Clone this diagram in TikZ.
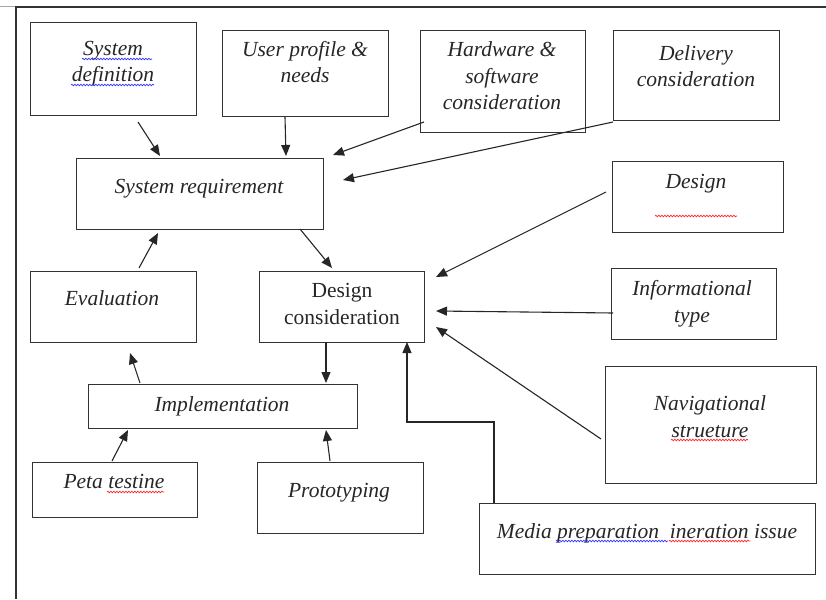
\documentclass[tikz,border=0pt]{standalone}
\usepackage{fontspec}
\setmainfont{Liberation Serif}
\usetikzlibrary{arrows.meta,decorations.pathmorphing}
\begin{document}
\begin{tikzpicture}[x=1pt,y=-1pt,
  box/.style={draw=black!80,line width=1.2pt,rectangle,inner sep=0pt,anchor=north west},
  lbl/.style={font=\fontsize{21.5}{26.5}\selectfont\itshape,align=center,anchor=base,inner sep=0pt,text=black!85},
  ulbl/.style={font=\fontsize{21.5}{26.5}\selectfont,align=center,anchor=base,inner sep=0pt,text=black!85},
  arr/.style={draw=black!85,line width=1.1pt,-{Triangle[length=11pt,width=9pt]}},
  sqred/.style={draw=red!85,line width=0.7pt,decorate,decoration={snake,amplitude=0.8pt,segment length=3pt}},
  sqblue/.style={draw=blue!80,line width=0.7pt,decorate,decoration={snake,amplitude=0.8pt,segment length=3pt}}]
\useasboundingbox (0,0) rectangle (826,599);
% outer frame
\draw[black!35,line width=1pt] (0,7) -- (16,7);
\draw[black!80,line width=1.2pt] (826,7) -- (16,7) -- (16,599);
% boxes
\node[box,minimum width=166pt,minimum height=93pt] (sd) at (30,22) {};
\node[box,minimum width=166pt,minimum height=86pt] (up) at (222,30) {};
\node[box,minimum width=165pt,minimum height=102pt] (hw) at (420,30) {};
\node[box,minimum width=166pt,minimum height=90pt] (dl) at (613,30) {};
\node[box,minimum width=171pt,minimum height=71pt] (ds) at (612,161) {};
\node[box,minimum width=247pt,minimum height=71pt] (sr) at (76,158) {};
\node[box,minimum width=166pt,minimum height=71pt] (ev) at (30,271) {};
\node[box,minimum width=165pt,minimum height=71pt] (dc) at (259,271) {};
\node[box,minimum width=165pt,minimum height=71pt] (it) at (611,268) {};
\node[box,minimum width=269pt,minimum height=44pt] (im) at (88,384) {};
\node[box,minimum width=211pt,minimum height=117pt] (nv) at (605,366) {};
\node[box,minimum width=165pt,minimum height=55pt] (pt) at (32,462) {};
\node[box,minimum width=166pt,minimum height=71pt] (pr) at (257,462) {};
\node[box,minimum width=336pt,minimum height=71pt] (md) at (479,503) {};
% labels (multi-line labels are placed at the baseline of their last line)
\node[lbl] (tsd) at (113,82) {System\\definition};
\node[lbl] (tup) at (305,83) {User profile \&\\needs};
\node[lbl] (thw) at (502,110) {Hardware \&\\software\\consideration};
\node[lbl] (tdl) at (696,87) {Delivery\\consideration};
\node[lbl] (tds) at (696,188) {Design};
\node[lbl] (tsr) at (199,193) {System requirement};
\node[lbl] (tev) at (112,305) {Evaluation};
\node[ulbl] (tdc) at (342,324) {Design\\consideration};
\node[lbl] (tit) at (692,322) {Informational\\type};
\node[lbl] (tim) at (222,411) {Implementation};
\node[lbl] (tnv) at (710,437) {Navigational\\strueture};
\node[lbl] (tpt) at (114,488) {Peta testine};
\node[lbl] (tpr) at (339,497) {Prototyping};
\node[lbl] (tmd) at (647,538) {Media preparation\ \ ineration issue};
% spell-check squiggles
\draw[sqblue] (82,59) -- (152,59);
\draw[sqblue] (71,85) -- (154,85);
\draw[sqred] (655,216) -- (737,216);
\draw[sqred] (107,492) -- (164,492);
\draw[sqred] (671,440) -- (748,440);
\draw[sqblue] (556,541) -- (668,541);
\draw[sqred] (669,541) -- (750,541);
% connector end points
\coordinate (a1s) at (138,122); \coordinate (a1e) at (160,156);
\coordinate (a2s) at (285,117); \coordinate (a2e) at (286,156);
\coordinate (a3s) at (424,122); \coordinate (a3e) at (333,155);
\coordinate (a4s) at (613,122); \coordinate (a4e) at (343,180);
\coordinate (a5s) at (606,192); \coordinate (a5e) at (436,277);
\coordinate (a6s) at (613,313); \coordinate (a6e) at (436,311);
\coordinate (a7s) at (601,439); \coordinate (a7e) at (436,327);
\coordinate (a8s) at (494,503); \coordinate (a8e) at (407,342);
\coordinate (a9s) at (300,229); \coordinate (a9e) at (332,268);
\coordinate (b1s) at (139,268); \coordinate (b1e) at (158,233);
\coordinate (b2s) at (140,383); \coordinate (b2e) at (130,353);
\coordinate (b3s) at (326,342); \coordinate (b3e) at (326,383);
\coordinate (b4s) at (112,461); \coordinate (b4e) at (128,430);
\coordinate (b5s) at (330,461); \coordinate (b5e) at (326,430);
% connectors
\draw[arr] (a1s) -- (a1e);
\draw[arr] (a2s) -- (a2e);
\draw[arr] (a3s) -- (a3e);
\draw[arr] (a4s) -- (a4e);
\draw[arr] (a5s) -- (a5e);
\draw[arr] (a6s) -- (a6e);
\draw[arr] (a7s) -- (a7e);
\draw[arr] (a8s) |- (407,422) -- (a8e);
\draw[arr] (a9s) -- (a9e);
\draw[arr] (b1s) -- (b1e);
\draw[arr] (b2s) -- (b2e);
\draw[arr] (b3s) -- (b3e);
\draw[arr] (b4s) -- (b4e);
\draw[arr] (b5s) -- (b5e);
\end{tikzpicture}
\end{document}
